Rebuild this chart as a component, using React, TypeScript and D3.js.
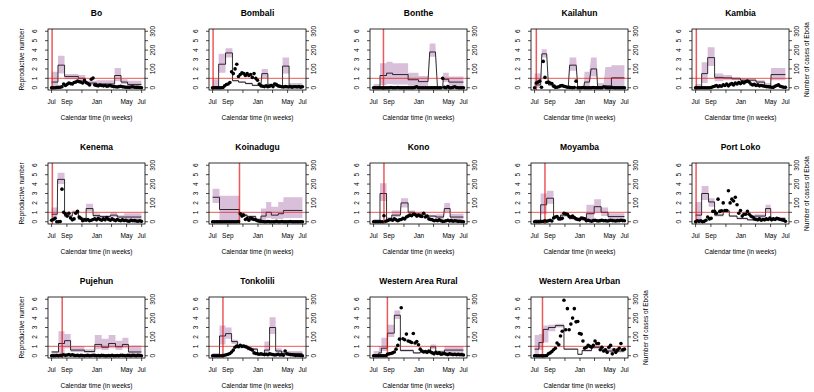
import React from 'react';
import * as d3 from 'd3';

// weekly case counts, week 0 = 1 Jul 2014
const casesBo = [0,0,0,1,2,3,5,20,12,18,25,22,20,28,30,35,32,30,25,38,28,22,15,45,52,15,12,10,14,12,10,12,8,10,12,8,6,5,4,6,8,5,4,3,3,2,4,5,3,2,2,1,0];
const casesBombali = [0,0,0,0,0,0,1,10,17,20,28,85,75,100,125,60,70,80,75,65,75,65,70,55,75,50,40,20,10,8,6,10,5,8,12,6,20,15,10,8,5,4,6,5,4,6,3,5,5,4,6,3,5];
const casesBonthe = [0,0,0,0,0,0,0,0,0,0,1,0,0,0,1,0,0,0,0,0,0,0,0,0,2,5,0,0,0,0,0,0,0,0,0,0,0,0,0,0,50,2,0,6,0,0,2,5,1,0,0,0,0];
const casesKailahun = [0,25,30,35,3,140,55,28,30,25,22,8,2,3,5,10,12,8,5,3,2,1,0,1,35,0,0,0,1,0,0,0,0,0,1,0,0,0,0,0,5,2,0,0,0,1,0,0,0,0,0,0,0];
const casesKambia = [0,0,0,0,0,0,0,0,0,1,5,8,12,6,10,8,15,12,20,10,18,22,15,25,20,28,22,30,25,32,35,30,20,15,18,12,15,10,12,10,8,6,5,4,3,2,8,12,15,8,5,3,2];
const casesKenema = [8,12,18,0,0,1,173,50,42,30,45,20,10,15,45,55,25,18,5,10,8,12,5,8,12,15,10,18,12,8,15,10,22,12,8,15,10,6,12,8,5,10,6,8,4,3,8,5,6,4,3,5,2];
const casesKoinadugu = [0,0,0,0,0,0,0,0,0,0,0,0,0,0,0,1,42,30,35,12,18,8,20,15,12,10,5,3,2,1,0,0,1,0,0,0,0,2,0,0,1,0,0,0,0,1,0,0,0,0,0,0,0];
const casesKono = [0,0,0,0,0,0,32,2,5,10,12,8,15,10,5,10,12,18,15,25,30,35,32,40,38,30,35,30,28,45,25,30,15,12,10,5,8,5,10,5,2,3,5,8,4,6,3,5,4,2,3,1,0];
const casesMoyamba = [0,0,0,0,1,2,5,3,5,8,4,20,25,28,15,15,18,45,42,40,28,25,30,22,15,12,10,20,18,15,5,8,5,3,6,8,5,4,6,8,5,6,4,5,8,6,5,4,6,5,8,6,5];
const casesPortLoko = [0,5,2,5,0,2,8,25,15,18,55,55,45,120,55,58,100,60,60,165,100,120,110,130,90,45,60,30,40,40,55,40,30,25,15,12,10,15,8,12,10,15,12,20,10,15,12,18,15,12,10,8,3];
const casesPujehun = [0,0,0,1,0,2,3,5,2,4,6,3,5,2,1,3,0,2,1,0,1,2,0,1,3,2,0,1,0,2,1,0,0,1,0,2,0,0,1,0,3,2,1,0,2,1,0,3,1,0,2,1,0];
const casesTonkolili = [0,0,0,0,0,0,1,3,5,8,12,20,30,45,52,48,55,50,52,48,45,40,35,30,15,12,10,8,10,8,6,8,5,10,8,6,4,5,8,4,6,3,25,10,8,6,5,4,2,3,2,1,0];
const casesWAR = [0,0,0,0,0,0,0,0,8,10,12,15,20,35,55,88,255,90,85,115,78,75,70,118,68,75,58,35,25,20,22,18,25,20,15,10,18,12,15,8,10,12,8,6,10,8,6,8,5,7,5,6,4];
const casesWAU = [0,0,0,0,0,0,0,1,10,15,22,32,40,68,58,105,130,295,138,250,138,168,200,250,180,182,118,115,78,40,45,55,50,45,55,78,65,65,32,45,25,32,18,45,55,10,32,18,30,40,65,32,35];

// reproductive number estimates: [fromWeek, toWeek, R, lower, upper]
const rtBo = [[0,3.7,0.6,0.1,1.7],[3.7,7.5,2.4,1.5,3.4],[7.5,15.5,1.2,0.9,1.45],[15.5,19.5,1.0,0.75,1.35],[19.5,26,0.5,0.3,0.75],[26,36.5,0.4,0.2,0.8],[36.5,40.2,1.3,0.7,2.1],[40.2,44,0.6,0.4,0.9],[44,52,0.35,0.1,0.75]];
const rtBombali = [[0,3.5,0.1,0,0.9],[3.5,7.5,2.5,1.6,3.6],[7.5,11.5,3.7,3.2,4.2],[11.5,15,0.75,0.65,0.85],[15,19,0.6,0.5,0.7],[19,23,0.45,0.35,0.55],[23,28,0.25,0.15,0.35],[28.5,32,1.5,1.0,2.0],[32,35,0.3,0.15,0.45],[35,37.5,0.4,0.2,0.6],[37.5,40.5,0.1,0,0.3],[40.5,44.3,2.3,1.5,3.2],[44.3,52,0.2,0.05,0.5]];
const rtBonthe = [[0,3.7,0.05,0,0.4],[3.7,7.5,1.3,0.3,2.6],[7.5,11,1.55,0.4,2.75],[11,20,1.4,0.35,2.6],[20,26,0.85,0.2,1.6],[26,31.5,0.65,0.15,1.25],[32.5,35.8,3.8,3.3,4.7],[37,40,0,0,0],[40.3,43.5,0.9,0.6,1.6],[43.5,52,0.6,0.2,1.2]];
const rtKailahun = [[0,3.5,0.3,0,1.5],[4.2,7,3.6,3.2,4.1],[8,12,0.3,0.2,0.4],[12,19.5,0.1,0.05,0.2],[20.3,24.1,2.4,1.8,3.2],[25,28.5,0.05,0,0.1],[28.9,31.7,0.6,0.1,1.7],[32.7,35.9,2.0,1.2,3.2],[36.5,40,0.05,0,0.5],[41,44.5,0.2,0,2.2],[44.5,52,1.05,0.1,2.4]];
const rtKambia = [[0,3.5,0.05,0,0.4],[3.5,7,1.5,0.5,2.7],[7,11,3.2,2.3,4.3],[11,16,1.1,0.7,1.5],[16,21,1.05,0.8,1.35],[21,26,0.95,0.8,1.15],[26,35,0.8,0.65,1.0],[35,40,0.6,0.45,0.8],[40,43.5,0.2,0,0.5],[43.7,52,1.4,0.8,2.1]];
const rtKenema = [[0,3.3,0.8,0.3,1.5],[3.5,7.5,4.5,4.0,5.2],[7.5,12,0.6,0.45,0.8],[12,15.5,1.0,0.85,1.2],[15.5,20,0.3,0.2,0.45],[20,24,1.4,1.1,1.9],[24,28,0.65,0.5,0.9],[28,34,0.55,0.4,0.7],[34,38,0.7,0.5,1.0],[38,42,0.5,0.35,0.7],[42,52,0.5,0.2,0.9]];
const rtKoinadugu = [[0,4,2.6,2.0,3.5],[4,15.5,1.3,0.1,2.75],[15.5,18,0.85,0.65,1.0],[18,20,0.7,0.55,0.85],[20,25,0.55,0.4,0.7],[25,28,0.2,0.05,0.4],[28,31,0.6,0.2,1.4],[31,34,1.0,0.4,2.1],[34,38,0.7,0.3,1.6],[38,41,0.85,0.3,2.1],[41,52,1.2,0.4,2.6]];
const rtKono = [[0,3.7,0.05,0,0.3],[3.7,7.5,3.0,2.2,4.1],[7.5,10.5,0.15,0,0.5],[10.5,15.5,0.7,0.5,1.2],[15.9,20,2.0,1.5,2.5],[20,24,1.0,0.8,1.2],[24,30,0.8,0.65,0.95],[30,36,0.6,0.45,0.75],[36,40.5,0.5,0.3,0.8],[41,44.3,1.4,1.0,2.0],[44.3,52,0.5,0.2,0.85]];
const rtMoyamba = [[0,3.5,0.05,0,0.3],[3.5,7,1.8,0.8,3.0],[7,11,2.5,1.9,3.3],[11,15,0.45,0.3,0.6],[15,20,0.7,0.5,0.9],[20,26,0.35,0.2,0.5],[26,30,0.3,0.1,0.5],[30,34.5,0.85,0.3,1.8],[34.5,38.5,1.6,1.0,2.4],[38.5,42.5,1.0,0.6,1.5],[42.5,52,0.55,0.3,0.9]];
const rtPortLoko = [[0,3.5,0.7,0,2.1],[3.5,7.5,3.0,2.3,3.8],[7.5,11,2.1,1.6,2.5],[11,16,0.7,0.55,0.85],[16,19.5,1.15,1.0,1.3],[19.5,24,0.6,0.5,0.7],[24,30,0.35,0.25,0.45],[30,34,0.2,0.1,0.3],[34,40.5,0.6,0.4,0.8],[40.5,43.5,1.4,1.0,1.8],[43.5,52,0.35,0.2,0.5]];
const rtPujehun = [[0,4,0.4,0.1,0.5],[4,7.5,1.3,0.3,2.6],[7.5,11,1.6,0.8,2.3],[11,19,0.6,0.4,1.0],[19,25,0.45,0.3,0.7],[25,29,1.2,0.7,2.2],[29,33,0.9,0.6,1.8],[33,37,1.3,0.8,2.2],[37,41,0.95,0.6,1.6],[41,44.5,1.2,0.8,1.9],[44.5,52,0.4,0.1,1.1]];
const rtTonkolili = [[0,4,0.05,0,0.3],[4,7.5,2.1,1.2,3.2],[7.5,11,2.35,1.8,3.0],[11,14.5,1.5,1.25,1.7],[14.5,20,1.0,0.8,1.2],[20,26,0.7,0.55,0.85],[26,30,0.15,0.05,0.3],[30,33,0.6,0.2,1.5],[33,36.5,3.0,2.3,4.1],[36.5,40,0.5,0.3,0.8],[40,52,0.25,0.1,0.5]];
const rtWAR = [[0,3,0.05,0,0.5],[3,4.5,0.3,0.1,1.0],[4.5,8,0.8,0.5,1.9],[8,12,2.4,2.0,3.3],[12,15.5,4.3,3.9,4.8],[15.5,23,0.55,0.45,0.7],[23,27,0.3,0.2,0.4],[27,33,0.45,0.3,0.6],[33,36,0.95,0.7,1.2],[36,41,0.4,0.3,0.55],[41,52,0.6,0.3,1.0]];
const rtWAU = [[0,2.5,0.7,0,2.2],[2.5,5,1.4,0.6,2.3],[5,8,2.8,1.4,3.2],[8,12,3.0,2.6,3.3],[12,17,3.2,3.0,3.4],[17,25,0.7,0.6,0.8],[25,27.5,0.15,0.1,0.25],[27.5,33,0.55,0.45,0.65],[33,39,0.9,0.75,1.1],[39,52,0.5,0.35,0.8]];

const districtNames = ['Bo','Bombali','Bonthe','Kailahun','Kambia','Kenema','Koinadugu','Kono','Moyamba','Port Loko','Pujehun','Tonkolili','Western Area Rural','Western Area Urban'];
const districtCases = [casesBo,casesBombali,casesBonthe,casesKailahun,casesKambia,casesKenema,casesKoinadugu,casesKono,casesMoyamba,casesPortLoko,casesPujehun,casesTonkolili,casesWAR,casesWAU];
const districtRt = [rtBo,rtBombali,rtBonthe,rtKailahun,rtKambia,rtKenema,rtKoinadugu,rtKono,rtMoyamba,rtPortLoko,rtPujehun,rtTonkolili,rtWAR,rtWAU];
// date marked by the red vertical line
const districtMarks = ['2014-07-03','2014-07-03','2014-08-10','2014-07-08','2014-07-04','2014-07-04','2014-10-18','2014-08-12','2014-08-12','2014-07-03','2014-08-13','2014-08-12','2014-08-26','2014-08-02'];

const monthTicks = ['2014-07-01','2014-09-01','2014-11-01','2015-01-01','2015-03-01','2015-05-01','2015-07-01'];
const monthLabels = ['Jul','Sep','','Jan','','May','Jul'];
const rTicks = [0,1,2,3,4,5,6];
const caseTicks = [0,50,100,150,200,250,300];
const caseLabels = ['0','','100','','200','','300'];

const W = 814, H = 392;
const COL0 = 48, COL_STEP = 161, ROW0 = 29, ROW_STEP = 134, PW = 97, PH = 61;
const FONT = '"Liberation Sans", Arial, Helvetica, sans-serif';
const RED = 'rgba(225,20,20,0.7)';
const BAND = '#d9bfd9';

const parse = (s: string) => {
  const [y, m, d] = s.split('-').map(Number);
  return new Date(y, m - 1, d);
};
const t0 = new Date(2014, 6, 1);
const weekDate = (w: number) => new Date(t0.getTime() + w * 7 * 86400000);
const tEnd = weekDate(52);
const pad = (tEnd.getTime() - t0.getTime()) * 0.04;
const xDomain = [new Date(t0.getTime() - pad), new Date(tEnd.getTime() + pad)];

const Panel = ({ idx }: { idx: number }) => {
  const col = idx % 5, row = Math.floor(idx / 5);
  const left = COL0 + col * COL_STEP, top = ROW0 + row * ROW_STEP;
  const x = d3.scaleTime().domain(xDomain).range([left, left + PW]);
  const y = d3.scaleLinear().domain([-0.24, 6.24]).range([top + PH, top]);
  const yc = d3.scaleLinear().domain([-12, 312]).range([top + PH, top]);

  const pts = districtRt[idx].flatMap(([s, e, r, lo, hi]) => [
    { w: s, r, lo, hi },
    { w: e, r, lo, hi },
  ]);
  const area = d3.area<any>().x((d) => x(weekDate(d.w))).y0((d) => y(d.lo)).y1((d) => y(d.hi));
  const line = d3.line<any>().x((d) => x(weekDate(d.w))).y((d) => y(d.r));
  const mark = x(parse(districtMarks[idx]));
  const clipId = `clip${idx}`;
  const cx = left + PW / 2, cy = top + PH / 2;
  const showLeft = col === 0;
  const showRight = col === 4 || idx === 13;

  return (
    <g>
      <defs>
        <clipPath id={clipId}>
          <rect x={left} y={top} width={PW} height={PH} />
        </clipPath>
      </defs>
      <g clipPath={`url(#${clipId})`}>
        <path d={area(pts) || ''} fill={BAND} />
        <path d={line(pts) || ''} fill="none" stroke="#000" strokeWidth={0.8} />
        <line x1={mark} x2={mark} y1={top} y2={top + PH} stroke={RED} strokeWidth={1.5} />
        <line x1={left} x2={left + PW} y1={y(1)} y2={y(1)} stroke={RED} strokeWidth={1} />
        {districtCases[idx].map((c, i) => (
          <circle key={i} cx={x(weekDate(i))} cy={yc(c)} r={1.8} fill="#000" />
        ))}
      </g>
      <rect x={left} y={top} width={PW} height={PH} fill="none" stroke="#000" strokeWidth={0.8} />
      <text x={cx} y={top - 13} textAnchor="middle" fontSize={8.5} fontWeight="bold" fontFamily={FONT}>
        {districtNames[idx]}
      </text>
      {rTicks.map((t) => (
        <g key={'r' + t}>
          <line x1={left} x2={left - 3} y1={y(t)} y2={y(t)} stroke="#000" strokeWidth={0.7} />
          <text transform={`translate(${left - 11},${y(t)}) rotate(-90)`} textAnchor="middle" fontSize={6.5} fontFamily={FONT}>
            {t}
          </text>
        </g>
      ))}
      {caseTicks.map((t, i) => (
        <g key={'c' + t}>
          <line x1={left + PW} x2={left + PW + 3} y1={yc(t)} y2={yc(t)} stroke="#000" strokeWidth={0.7} />
          <text transform={`translate(${left + PW + 10},${yc(t)}) rotate(-90)`} textAnchor="middle" fontSize={6.5} fontFamily={FONT}>
            {caseLabels[i]}
          </text>
        </g>
      ))}
      {monthTicks.map((m, i) => {
        const px = x(parse(m));
        return (
          <g key={m}>
            <line x1={px} x2={px} y1={top + PH} y2={top + PH + 3} stroke="#000" strokeWidth={0.7} />
            <text x={px} y={top + PH + 14} textAnchor="middle" fontSize={6.5} fontFamily={FONT}>
              {monthLabels[i]}
            </text>
          </g>
        );
      })}
      <text x={cx} y={top + PH + 30} textAnchor="middle" fontSize={6.5} fontFamily={FONT}>
        Calendar time (in weeks)
      </text>
      {showLeft && (
        <text transform={`translate(${left - 24},${cy}) rotate(-90)`} textAnchor="middle" fontSize={6.5} fontFamily={FONT}>
          Reproductive number
        </text>
      )}
      {showRight && (
        <text transform={`translate(${left + PW + 20},${cy}) rotate(-90)`} textAnchor="middle" fontSize={6.5} fontFamily={FONT}>
          Number of cases of Ebola
        </text>
      )}
    </g>
  );
};

export default function App() {
  return (
    <svg width={W} height={H} style={{ position: 'absolute', left: 0, top: 0, background: '#fff' }}>
      <rect width={W} height={H} fill="#fff" />
      {districtNames.map((_, i) => (
        <Panel key={i} idx={i} />
      ))}
    </svg>
  );
}
